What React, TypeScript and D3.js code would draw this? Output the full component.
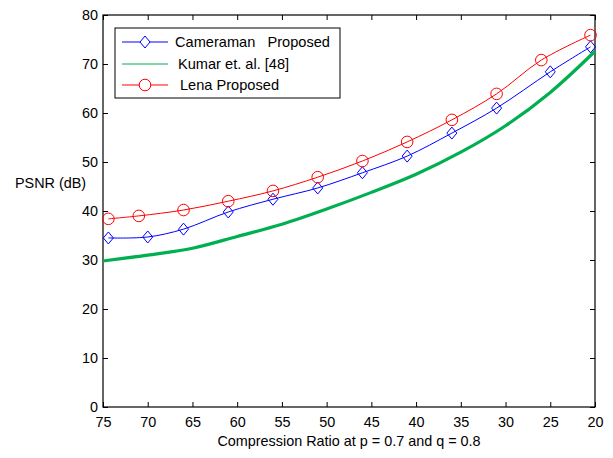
import React, { useEffect, useRef } from "react";
import * as d3 from "d3";

const xTicks = [75, 70, 65, 60, 55, 50, 45, 40, 35, 30, 25, 20];
const yTicks = [0, 10, 20, 30, 40, 50, 60, 70, 80];

const camX = [74.4, 70, 66, 61, 56, 51, 46, 41, 36, 31, 25, 20.5];
const camY = [34.5, 34.7, 36.3, 39.8, 42.4, 44.7, 47.8, 51.2, 55.9, 61.0, 68.4, 73.5];

const lenaX = [74.4, 71, 66, 61, 56, 51, 46, 41, 36, 31, 26, 20.5];
const lenaY = [38.4, 39.0, 40.2, 42.0, 44.1, 46.9, 50.2, 54.1, 58.6, 63.9, 70.8, 75.9];

const kumarX = [75, 70, 65, 60, 55, 50, 45, 40, 35, 30, 25, 20];
const kumarY = [29.8, 31.0, 32.4, 34.8, 37.3, 40.4, 43.8, 47.5, 52.0, 57.4, 64.2, 72.6];

const legendLabels = ["Cameraman   Proposed", "Kumar et. al. [48]", "Lena Proposed"];

const W = 613;
const H = 458;
const FONT = "Liberation Sans, Arial, sans-serif";
const FS = "14.4px";

export default function App() {
  const ref = useRef<SVGSVGElement>(null);

  useEffect(() => {
    const svg = d3.select(ref.current);
    svg.selectAll("*").remove();

    const left = 103, right = 595, top = 15, bottom = 407;
    const x = d3.scaleLinear().domain([75, 20]).range([left, right]);
    const y = d3.scaleLinear().domain([0, 80]).range([bottom, top]);

    svg.append("rect").attr("width", W).attr("height", H).attr("fill", "#fff");

    // inward ticks on all four sides (matlab box style)
    const tick = 5;
    const axes = [
      { a: d3.axisBottom(x).tickValues(xTicks).tickSizeInner(-tick).tickSizeOuter(0), t: `translate(0,${bottom})`, lab: true },
      { a: d3.axisTop(x).tickValues(xTicks).tickSizeInner(-tick).tickSizeOuter(0), t: `translate(0,${top})`, lab: false },
      { a: d3.axisLeft(y).tickValues(yTicks).tickSizeInner(-tick).tickSizeOuter(0), t: `translate(${left},0)`, lab: true },
      { a: d3.axisRight(y).tickValues(yTicks).tickSizeInner(-tick).tickSizeOuter(0), t: `translate(${right},0)`, lab: false },
    ];
    axes.forEach(({ a, t, lab }) => {
      const g = svg.append("g").attr("transform", t).call(a);
      g.select(".domain").remove();
      g.selectAll("line").attr("stroke", "#000");
      if (lab) {
        g.selectAll("text")
          .attr("fill", "#000")
          .style("font-family", FONT)
          .style("font-size", FS);
      } else {
        g.selectAll("text").remove();
      }
    });
    svg.selectAll(".tick text").each(function () {
      const el = d3.select(this);
      if (el.attr("dy") === "0.71em") el.attr("y", 10);
      else el.attr("x", -5);
    });

    svg.append("rect")
      .attr("x", left).attr("y", top)
      .attr("width", right - left).attr("height", bottom - top)
      .attr("fill", "none").attr("stroke", "#000").attr("stroke-width", 1.2);

    // series
    const line = (xs: number[], ys: number[], curve: d3.CurveFactory) =>
      d3.line<number>().x((_, i) => x(xs[i])).y((d) => y(d)).curve(curve)(ys);

    svg.append("path")
      .attr("d", line(kumarX, kumarY, d3.curveCatmullRom))
      .attr("fill", "none").attr("stroke", "#00b050").attr("stroke-width", 3.2);

    svg.append("path")
      .attr("d", line(camX, camY, d3.curveCatmullRom))
      .attr("fill", "none").attr("stroke", "#0000ff").attr("stroke-width", 1);

    svg.append("path")
      .attr("d", line(lenaX, lenaY, d3.curveCatmullRom))
      .attr("fill", "none").attr("stroke", "#ff0000").attr("stroke-width", 1);

    const diamond = (cx: number, cy: number) =>
      `M${cx},${cy - 6}L${cx + 5},${cy}L${cx},${cy + 6}L${cx - 5},${cy}Z`;

    svg.append("g").selectAll("path")
      .data(camY)
      .join("path")
      .attr("d", (d, i) => diamond(x(camX[i]), y(d)))
      .attr("fill", "none").attr("stroke", "#0000ff").attr("stroke-width", 1);

    svg.append("g").selectAll("circle")
      .data(lenaY)
      .join("circle")
      .attr("cx", (_, i) => x(lenaX[i]))
      .attr("cy", (d) => y(d))
      .attr("r", 5.8)
      .attr("fill", "none").attr("stroke", "#ff0000").attr("stroke-width", 1);

    // legend
    const lg = svg.append("g");
    lg.append("rect")
      .attr("x", 115).attr("y", 28).attr("width", 225).attr("height", 70)
      .attr("fill", "#fff").attr("stroke", "#000").attr("stroke-width", 1);
    const rows = [42, 64, 85];
    const colors = ["#0000ff", "#00b050", "#ff0000"];
    const textX = [175, 178, 180];
    rows.forEach((ry, i) => {
      lg.append("line")
        .attr("x1", 122).attr("x2", 168).attr("y1", ry).attr("y2", ry)
        .attr("stroke", colors[i]).attr("stroke-width", 1);
      lg.append("text")
        .attr("x", textX[i]).attr("y", ry + 5)
        .attr("xml:space", "preserve")
        .style("white-space", "pre")
        .style("font-family", FONT).style("font-size", "14.6px")
        .text(legendLabels[i]);
    });
    lg.append("path").attr("d", diamond(145, rows[0]))
      .attr("fill", "#fff").attr("stroke", "#0000ff");
    lg.append("circle").attr("cx", 145).attr("cy", rows[2]).attr("r", 5.8)
      .attr("fill", "#fff").attr("stroke", "#ff0000");

    // axis titles
    svg.append("text")
      .attr("x", 15).attr("y", 188)
      .style("font-family", FONT).style("font-size", FS)
      .text("PSNR (dB)");
    svg.append("text")
      .attr("x", (left + right) / 2).attr("y", 446)
      .attr("text-anchor", "middle")
      .style("font-family", FONT).style("font-size", FS)
      .text("Compression Ratio at p = 0.7 and q = 0.8");
  }, []);

  return (
    <svg
      ref={ref}
      width={W}
      height={H}
      style={{ position: "absolute", left: 0, top: 0, display: "block" }}
    />
  );
}
